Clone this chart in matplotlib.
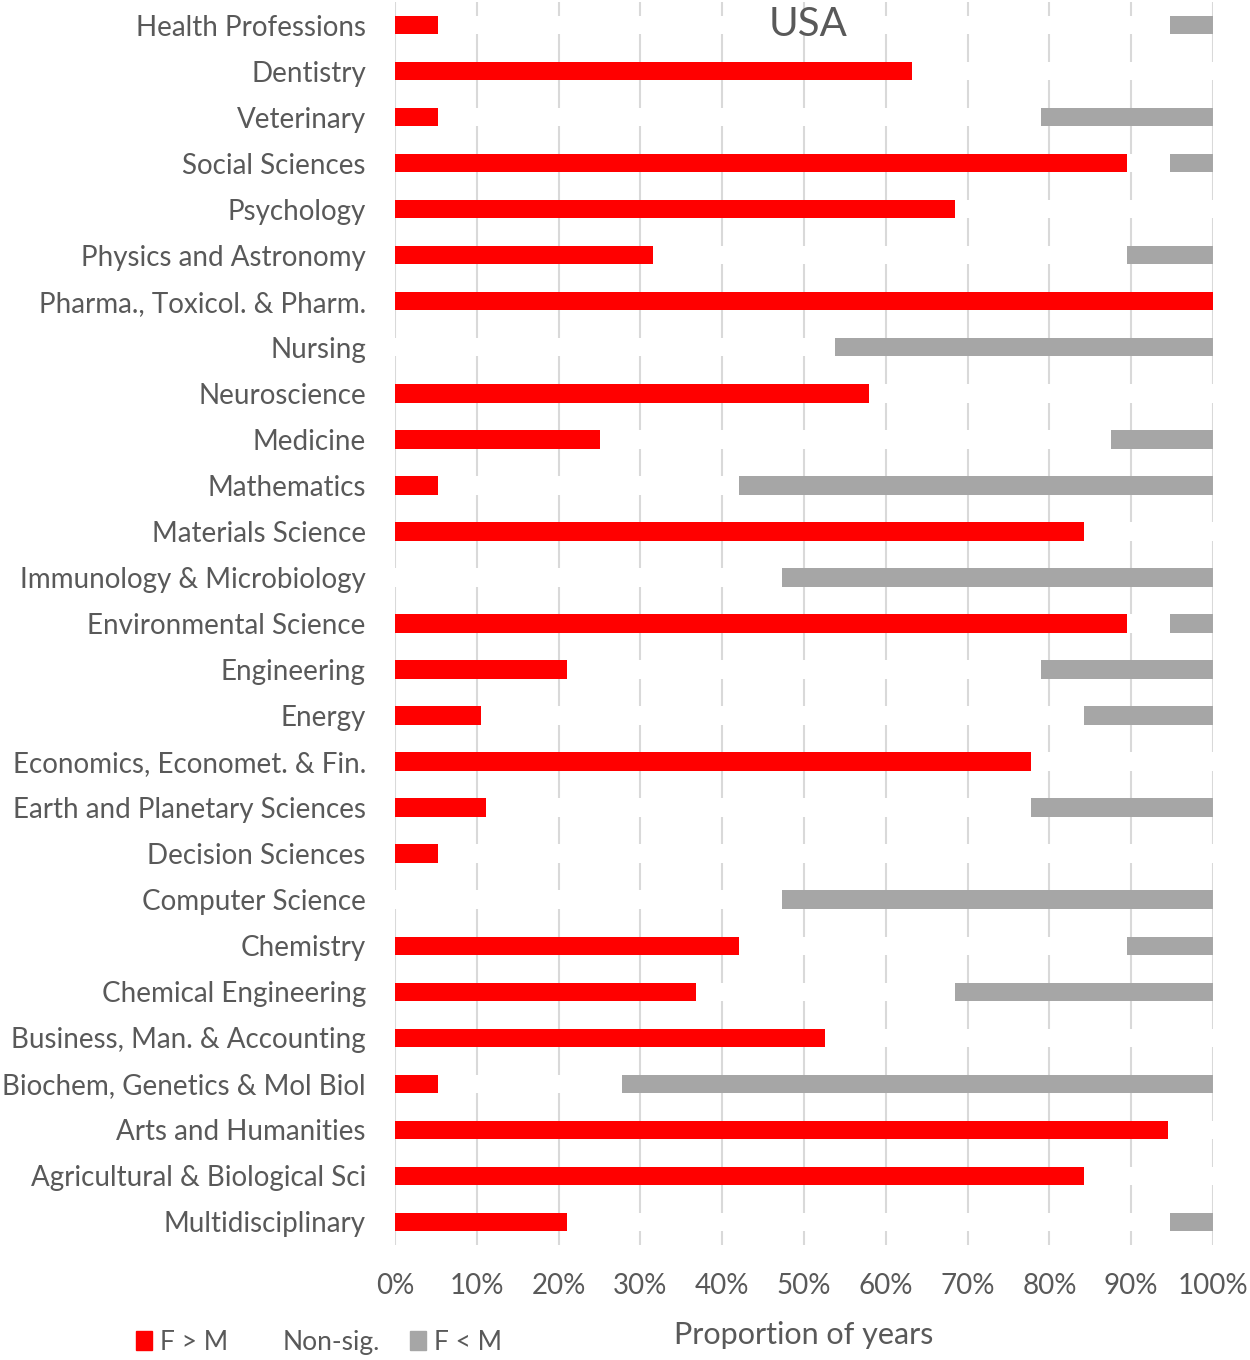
import matplotlib
matplotlib.use("Agg")
import matplotlib.pyplot as plt
import matplotlib.patches as mpatches
import numpy as np

plt.rcParams['font.family'] = ['Lato', 'DejaVu Sans']

# top to bottom as in the picture
fields = ["Health Professions", "Dentistry", "Veterinary", "Social Sciences", "Psychology",
          "Physics and Astronomy", "Pharma., Toxicol. & Pharm.", "Nursing", "Neuroscience",
          "Medicine", "Mathematics", "Materials Science", "Immunology & Microbiology",
          "Environmental Science", "Engineering", "Energy", "Economics, Economet. & Fin.",
          "Earth and Planetary Sciences", "Decision Sciences", "Computer Science", "Chemistry",
          "Chemical Engineering", "Business, Man. & Accounting", "Biochem, Genetics & Mol Biol",
          "Arts and Humanities", "Agricultural & Biological Sci", "Multidisciplinary"]

f_gt_m = [5.3, 63.2, 5.2, 89.5, 68.4, 31.6, 100, 0, 57.9, 25.0, 5.2, 84.2, 0,
          89.5, 21.0, 10.5, 77.8, 11.1, 5.2, 0, 42.1, 36.8, 52.6, 5.3, 94.5, 84.2, 21.0]
f_lt_m = [5.3, 0, 21.0, 5.3, 0, 10.5, 0, 46.2, 0, 12.5, 57.9, 0, 52.7,
          5.3, 21.0, 15.8, 0, 22.2, 0, 52.7, 10.5, 31.6, 0, 72.2, 0, 0, 5.3]

red = np.array(f_gt_m)
grey = np.array(f_lt_m)
nonsig = 100 - red - grey

txt = '#595959'
fig = plt.figure(figsize=(12.5, 13.6), dpi=100)
ax = fig.add_axes([0.316, 0.0846, 0.6544, 0.9139])

y = np.arange(len(fields))
h = 0.4
ax.barh(y, red, height=h, color='#ff0000', label='F > M', zorder=3)
ax.barh(y, nonsig, left=red, height=h, color='white', label='Non-sig.', zorder=3)
ax.barh(y, grey, left=red + nonsig, height=h, color='#a6a6a6', label='F < M', zorder=3)

ax.set_ylim(len(fields) - 0.5, -0.5)
ax.set_xlim(0, 100)
ax.set_xticks(np.arange(0, 101, 10))
ax.set_xticklabels([f"{v}%" for v in range(0, 101, 10)])
ax.set_yticks(y)
ax.set_yticklabels(fields)
ax.tick_params(axis='both', length=0, labelsize=20, labelcolor=txt)
ax.tick_params(axis='x', pad=20)
ax.tick_params(axis='y', pad=21)
ax.xaxis.grid(True, color='#d9d9d9', linewidth=1.5, zorder=0)
ax.set_axisbelow(True)
for s in ax.spines.values():
    s.set_visible(False)

ax.text(50.5, -0.02, "USA", fontsize=29, color=txt, ha='center', va='center')
fig.text(0.643, 0.0185, "Proportion of years", fontsize=22, color=txt, ha='center', va='center')

handles = [mpatches.Patch(color='#ff0000'), mpatches.Patch(color='white'),
           mpatches.Patch(color='#a6a6a6')]
fig.legend(handles, ['F > M', 'Non-sig.', 'F < M'], loc='center left',
           bbox_to_anchor=(0.109, 0.013), ncol=3, frameon=False, fontsize=19,
           handlelength=0.6, handleheight=0.7, handletextpad=0.3, columnspacing=1.15,
           labelcolor=txt, borderaxespad=0, borderpad=0)

fig.savefig("out.png", dpi=100)
